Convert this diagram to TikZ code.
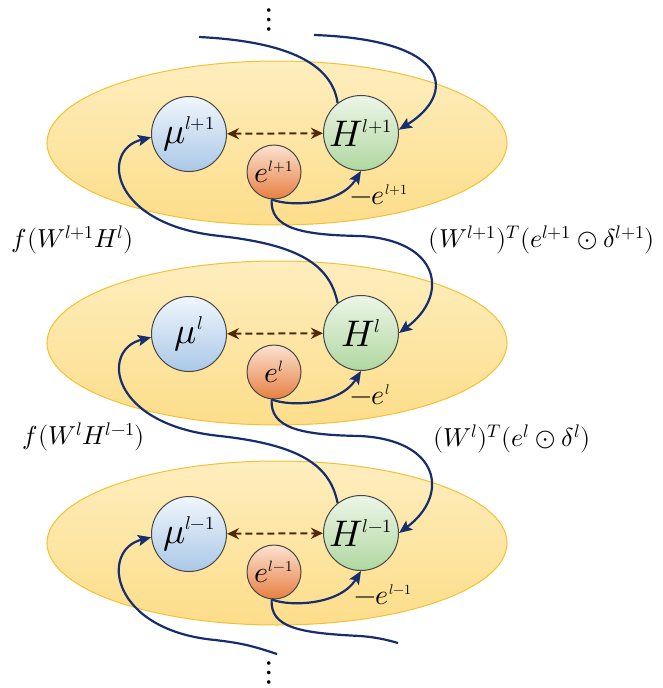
\documentclass[tikz,border=0pt]{standalone}
\usepackage{unicode-math}
\setmathfont{Latin Modern Math}
\usetikzlibrary{arrows.meta}
\definecolor{navy}{RGB}{22,45,110}
\definecolor{brownarr}{RGB}{80,40,10}
\definecolor{ellline}{RGB}{245,192,50}
\definecolor{elltop}{RGB}{254,238,190}
\definecolor{ellbot}{RGB}{252,221,138}
\definecolor{circline}{RGB}{70,70,70}
\definecolor{mutop}{RGB}{240,246,252}
\definecolor{mubot}{RGB}{170,200,232}
\definecolor{htop}{RGB}{236,245,232}
\definecolor{hbot}{RGB}{176,216,160}
\definecolor{etop}{RGB}{252,226,210}
\definecolor{ebot}{RGB}{230,128,66}
\tikzset{
  layer/.style={draw=ellline, line width=1pt, top color=elltop, bottom color=ellbot},
  munode/.style={circle, minimum size=75pt, inner sep=0pt, draw=circline, line width=1pt,
    top color=mutop, bottom color=mubot, font=\fontsize{37}{40}\selectfont},
  hnode/.style={circle, minimum size=75pt, inner sep=0pt, draw=circline, line width=1pt,
    top color=htop, bottom color=hbot, font=\fontsize{37}{40}\selectfont},
  enode/.style={circle, minimum size=54pt, inner sep=0pt, draw=circline, line width=1pt,
    top color=etop, bottom color=ebot, font=\fontsize{30}{34}\selectfont},
  flowline/.style={navy, line width=2.2pt},
  flow/.style={flowline, -{Stealth[length=13pt,width=11pt,inset=2.5pt]}},
  dasharrow/.style={brownarr, line width=2pt, dash pattern=on 7pt off 4pt,
    {Stealth[length=12pt,width=11pt]}-{Stealth[length=12pt,width=11pt]}},
  lbl/.style={font=\fontsize{26}{30}\selectfont, inner sep=0pt},
  nlbl/.style={font=\fontsize{28}{32}\selectfont, inner sep=0pt, anchor=west},
  dotsnode/.style={font=\fontsize{34}{34}\selectfont, inner sep=0pt},
}
\begin{document}
\begin{tikzpicture}[x=1pt,y=-1pt]
\useasboundingbox (0,0) rectangle (663,688);
% layers
\path[layer] (277,143) ellipse [x radius=230, y radius=82];
\path[layer] (277,343) ellipse [x radius=230, y radius=82];
\path[layer] (277,543) ellipse [x radius=230, y radius=82];
% nodes
\node[munode] (mu3) at (189,134) {$\mu^{\scriptscriptstyle l+1}$};
\node[hnode]  (H3)  at (361,133) {$H^{\scriptscriptstyle l+1}$};
\node[enode]  (e3)  at (274,172) {$e^{\scriptscriptstyle l+1}$};
\node[munode] (mu2) at (189,334) {$\mu^{\scriptscriptstyle l}$};
\node[hnode]  (H2)  at (361,333) {$H^{\scriptscriptstyle l}$};
\node[enode]  (e2)  at (274,372) {$e^{\scriptscriptstyle l}$};
\node[munode] (mu1) at (189,534) {$\mu^{\scriptscriptstyle l-1}$};
\node[hnode]  (H1)  at (361,533) {$H^{\scriptscriptstyle l-1}$};
\node[enode]  (e1)  at (274,572) {$e^{\scriptscriptstyle l-1}$};
% dots
\node[dotsnode] (dtop) at (269,20) {$\vdots$};
\node[dotsnode] (dbot) at (269,673) {$\vdots$};
% free ends
\coordinate (topL) at (199,37);
\coordinate (topR) at (314,35);
\coordinate (botL) at (277,654);
\coordinate (botR) at (398,643);
% dashed links
\draw[dasharrow] (mu3) -- (H3);
\draw[dasharrow] (mu2) -- (H2);
\draw[dasharrow] (mu1) -- (H1);
% -e links
\draw[flow] (e3.265) .. controls (290,207) and (340,205) .. (H3.south);
\draw[flow] (e2.265) .. controls (290,407) and (340,405) .. (H2.south);
\draw[flow] (e1.265) .. controls (290,607) and (340,605) .. (H1.south);
% H -> mu (upward)
\draw[flowline] (H3.128) .. controls (333,70) and (300,42) .. (topL);
\draw[flow] (H2.128) .. controls (330,265) and (300,245) .. (220,236)
   .. controls (110,225) and (100,150) .. (mu3.185);
\draw[flow] (H1.128) .. controls (330,465) and (300,445) .. (220,436)
   .. controls (110,425) and (100,350) .. (mu2.185);
\draw[flow] (botL) .. controls (250,645) and (240,643) .. (215,640)
   .. controls (110,630) and (100,550) .. (mu1.185);
% e -> H (downward)
\draw[flow] (topR) .. controls (455,40) and (455,95) .. (H3.5);
\draw[flow] (e3.265) .. controls (270,228) and (300,235) .. (360,236)
   .. controls (440,240) and (450,295) .. (H2.east);
\draw[flow] (e2.265) .. controls (270,428) and (300,435) .. (360,436)
   .. controls (440,440) and (450,495) .. (H1.east);
\draw[flowline] (e1.265) .. controls (270,628) and (300,633) .. (360,636)
   .. controls (375,637) and (388,640) .. (botR);
% labels
\node[lbl] (fa3) at (73,240) {$f(W^{l+1}H^{l})$};
\node[lbl] (fb3) at (542,240) {$(W^{l+1})^{T}(e^{l+1}\odot\delta^{l+1})$};
\node[lbl] (fa2) at (84,437) {$f(W^{l}H^{l-1})$};
\node[lbl] (fb2) at (512,439) {$(W^{l})^{T}(e^{l}\odot\delta^{l})$};
\node[nlbl] (n3) at (350,195) {$-e^{\scriptscriptstyle l+1}$};
\node[nlbl] (n2) at (350,395) {$-e^{\scriptscriptstyle l}$};
\node[nlbl] (n1) at (354,595) {$-e^{\scriptscriptstyle l-1}$};
\end{tikzpicture}
\end{document}
